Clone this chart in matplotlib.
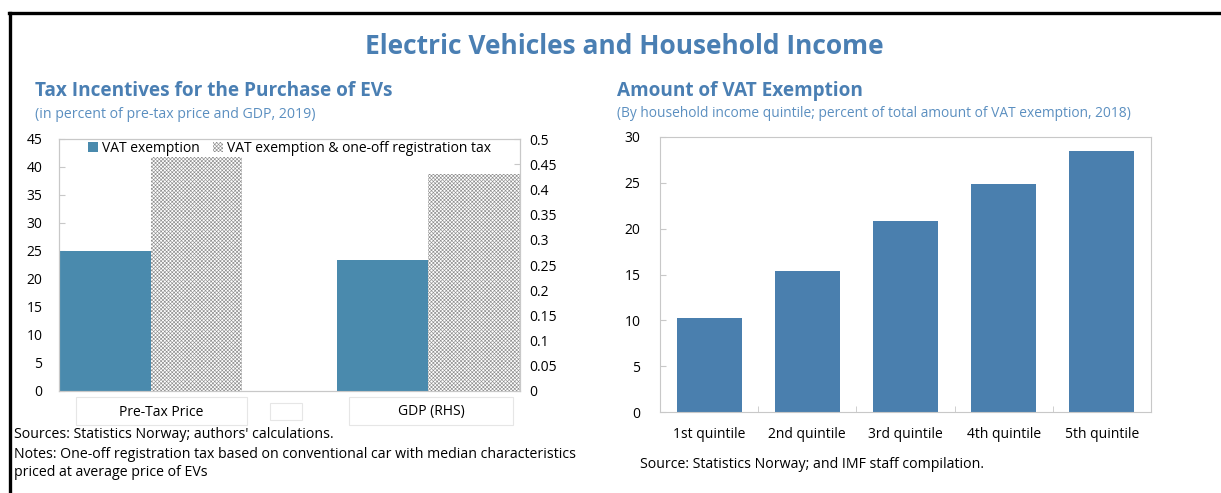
import matplotlib
matplotlib.use("Agg")
import matplotlib.pyplot as plt
from matplotlib.lines import Line2D
from matplotlib.patches import Rectangle

# data
left_categories = ['Pre-Tax Price', 'GDP (RHS)']
vat_exemption = [25.0, 0.26]          # pre-tax price (lhs), GDP (rhs)
vat_and_registration = [41.8, 0.43]
quintiles = ['1st quintile', '2nd quintile', '3rd quintile', '4th quintile', '5th quintile']
vat_share = [10.3, 15.4, 20.8, 24.9, 28.5]

plt.rcParams['font.family'] = ['Open Sans', 'DejaVu Sans']
plt.rcParams['hatch.linewidth'] = 0.45
plt.rcParams['hatch.color'] = '#8f8f8f'

W, H = 1221, 493
fig = plt.figure(figsize=(W / 100, H / 100), dpi=100)

title_color = '#4a7fb3'
sub_color = '#5b8fc0'
spine_color = '#c8c8c8'


def px_axes(x0, y0, x1, y1):
    return fig.add_axes([x0 / W, 1 - y1 / H, (x1 - x0) / W, (y1 - y0) / H])


def fx(x):
    return x / W


def fy(y):
    return 1 - y / H


# black frame lines
fig.add_artist(Line2D([fx(10), fx(10)], [0, fy(13)], color='black', lw=2.4))
fig.add_artist(Line2D([fx(9), 1], [fy(13), fy(13)], color='black', lw=2.4))

fig.text(fx(624), fy(46), 'Electric Vehicles and Household Income', ha='center', va='center',
         fontsize=19, fontweight='bold', color=title_color)

# ---- left chart
fig.text(fx(35), fy(91), 'Tax Incentives for the Purchase of EVs', ha='left', va='center',
         fontsize=13.7, fontweight='bold', color=title_color)
fig.text(fx(35), fy(114), '(in percent of pre-tax price and GDP, 2019)', ha='left', va='center',
         fontsize=10.2, color=sub_color)

ax = px_axes(59, 139, 520, 391)
ax2 = ax.twinx()
w = 0.33
ax.bar(0 - w / 2, vat_exemption[0], w, color='#4a8aad', label='VAT exemption', zorder=2)
ax.bar(0 + w / 2, vat_and_registration[0], w, color='white', hatch='xxxxxxxxx', lw=0,
       label='VAT exemption & one-off registration tax', zorder=2)
ax2.bar(1 - w / 2, vat_exemption[1], w, color='#4a8aad', zorder=2)
ax2.bar(1 + w / 2, vat_and_registration[1], w, color='white', hatch='xxxxxxxxx', lw=0, zorder=2)

ax.set_xlim(-w, 1 + w)
ax.set_ylim(0, 45)
ax.set_yticks(range(0, 50, 5))
ax2.set_ylim(0, 0.5)
ax2.set_yticks([i * 0.05 for i in range(11)])
ax2.set_yticklabels(['{:g}'.format(round(i * 0.05, 2)) for i in range(11)])
ax.set_xticks([])
for a in (ax, ax2):
    for s in a.spines.values():
        s.set_color(spine_color)
        s.set_linewidth(0.8)
ax.tick_params(axis='y', direction='in', length=4, color=spine_color, labelsize=10, pad=12)
ax2.tick_params(axis='y', direction='in', length=4, color=spine_color, labelsize=10, pad=7)

# legend drawn on the twin axes so it sits above every bar
h1, l1 = ax.get_legend_handles_labels()
leg = ax2.legend(h1, l1, loc='upper center', bbox_to_anchor=(0.5, 0.998), ncol=2, frameon=True,
                 fontsize=10, handlelength=0.7, handleheight=0.7, handletextpad=0.3,
                 columnspacing=1.0, borderpad=0.0, borderaxespad=0.1, fancybox=False,
                 framealpha=1)
leg.get_frame().set_edgecolor('white')
leg.get_frame().set_linewidth(0)
leg.set_zorder(10)

# category label boxes below the left chart
boxes = [(76, 397, 247, 425), (349, 397, 513, 425)]
for (x0, y0, x1, y1), lab in zip(boxes, left_categories):
    fig.add_artist(Rectangle((fx(x0), fy(y1)), fx(x1 - x0), (y1 - y0) / H, fill=False,
                             edgecolor='#e6e6e6', lw=0.8))
    fig.text(fx((x0 + x1) / 2), fy(412), lab, ha='center', va='center', fontsize=10)
fig.add_artist(Rectangle((fx(270), fy(420)), fx(32), 17 / H, fill=False, edgecolor='#e6e6e6', lw=0.8))

fig.text(fx(14), fy(434), "Sources: Statistics Norway; authors' calculations.", ha='left', va='center',
         fontsize=10.2)
fig.text(fx(14), fy(454), 'Notes: One-off registration tax based on conventional car with median characteristics',
         ha='left', va='center', fontsize=10.2)
fig.text(fx(14), fy(473), 'priced at average price of EVs', ha='left', va='center', fontsize=10.2)

# ---- right chart
fig.text(fx(617), fy(91), 'Amount of VAT Exemption', ha='left', va='center',
         fontsize=13.7, fontweight='bold', color=title_color)
fig.text(fx(617), fy(113), '(By household income quintile; percent of total amount of VAT exemption, 2018)',
         ha='left', va='center', fontsize=9.9, color=sub_color)

bx = px_axes(660, 137, 1151, 412)
x = range(len(quintiles))
bx.bar(x, vat_share, 0.66, color='#4a7fae', zorder=2)
bx.set_xlim(-0.5, len(quintiles) - 0.5)
bx.set_ylim(0, 30)
bx.set_yticks(range(0, 35, 5))
bx.set_xticks(list(x))
bx.set_xticklabels(quintiles)
bx.set_xticks([i + 0.5 for i in range(len(quintiles) - 1)], minor=True)
for s in bx.spines.values():
    s.set_color(spine_color)
    s.set_linewidth(0.8)
bx.tick_params(axis='x', which='major', length=0, labelsize=10, pad=11)
bx.tick_params(axis='x', which='minor', direction='in', length=4, color=spine_color)
bx.tick_params(axis='y', direction='in', length=4, color=spine_color, labelsize=10, pad=14)

fig.text(fx(640), fy(465), 'Source: Statistics Norway; and IMF staff compilation.', ha='left', va='center',
         fontsize=10.2)

fig.savefig('out.png', dpi=100)
